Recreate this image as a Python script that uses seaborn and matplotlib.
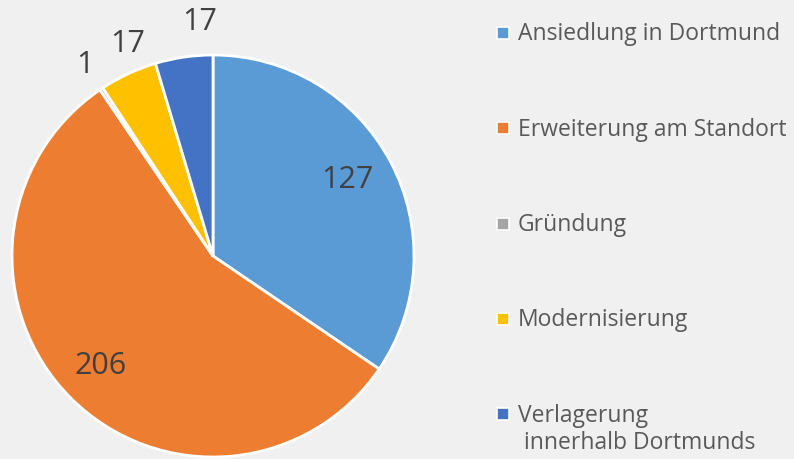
import numpy as np
import seaborn as sns
import matplotlib
matplotlib.use('Agg')
import matplotlib.pyplot as plt
from matplotlib.patches import Rectangle

# Daten
kategorien = ["Ansiedlung in Dortmund", "Erweiterung am Standort", "Gründung",
              "Modernisierung", "Verlagerung\n innerhalb Dortmunds"]
werte = [127, 206, 1, 17, 17]
farben = ["#5B9BD5", "#ED7D31", "#A5A5A5", "#FFC000", "#4472C4"]

sns.set_theme(style="white")
plt.rcParams['font.family'] = ['Open Sans', 'DejaVu Sans']
bg = "#F0F0F0"

fig = plt.figure(figsize=(7.94, 4.6), dpi=100, facecolor=bg)
ax = fig.add_axes([12 / 794, 2 / 460, 402 / 794, 402 / 460])
ax.set_facecolor(bg)

wedges, _ = ax.pie(werte, colors=farben, startangle=90, counterclock=False,
                   radius=1, wedgeprops=dict(edgecolor="white", linewidth=2))
ax.set_xlim(-1, 1)
ax.set_ylim(-1, 1)
ax.set_aspect("equal")
ax.axis("off")

# Beschriftungen (innen / aussen wie in Excel)
abstand = [0.77, 0.78, 1.15, 1.14, 1.17]
winkel_korr = [2, -1, 0, -3, -5]
for w, v, d, k in zip(wedges, werte, abstand, winkel_korr):
    theta = np.deg2rad((w.theta1 + w.theta2) / 2 + k)
    ax.text(d * np.cos(theta), d * np.sin(theta), str(v), ha="center", va="center",
            fontsize=22, color="#404040")

# Legende von Hand, damit Abstaende wie im Original
for i, (name, c) in enumerate(zip(kategorien, farben)):
    y = 1 - (34 + i * 95.3) / 460
    fig.patches.append(Rectangle((497 / 794, y - 6 / 460), 12 / 794, 12 / 460,
                                 facecolor=c, edgecolor="white", linewidth=1.2,
                                 transform=fig.transFigure))
    fig.text(518 / 794, y + 11.5 / 460, name, ha="left", va="top", fontsize=16.5,
             color="#595959", linespacing=1.2)

plt.savefig("out.png", dpi=100, facecolor=bg)
